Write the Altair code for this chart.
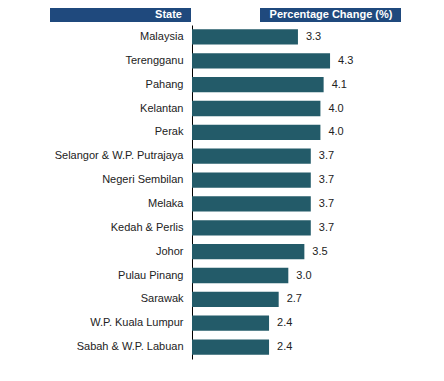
import altair as alt
import pandas as pd

states = ["Malaysia", "Terengganu", "Pahang", "Kelantan", "Perak",
          "Selangor & W.P. Putrajaya", "Negeri Sembilan", "Melaka",
          "Kedah & Perlis", "Johor", "Pulau Pinang", "Sarawak",
          "W.P. Kuala Lumpur", "Sabah & W.P. Labuan"]
changes = [3.3, 4.3, 4.1, 4.0, 4.0, 3.7, 3.7, 3.7, 3.7, 3.5, 3.0, 2.7, 2.4, 2.4]
headers = ["State", "Percentage Change (%)"]

df = pd.DataFrame({"state": states, "change": changes})
df["label"] = df["change"].map(lambda v: f"{v:.1f}")

FONT = "Liberation Sans"
W, H = 209, 334

y_enc = alt.Y("state:N", sort=states, title=None,
              scale=alt.Scale(paddingInner=0.36, paddingOuter=0.18),
              axis=alt.Axis(domain=True, domainColor="#000000", domainWidth=1,
                            ticks=False, labelPadding=9, labelFontSize=11,
                            labelFont=FONT, labelColor="#222222", grid=False))
x_enc = alt.X("change:Q", title=None, scale=alt.Scale(domain=[0, 6.51], nice=False),
              axis=None)

bars = alt.Chart(df).mark_bar(color="#235B69").encode(x=x_enc, y=y_enc)
labels = alt.Chart(df).mark_text(align="left", dx=8, fontSize=11, font=FONT,
                                 color="#222222").encode(
    x=x_enc, y=alt.Y("state:N", sort=states), text="label:N")

hdr = pd.DataFrame({"h": headers})
box1 = alt.Chart(hdr).transform_filter(alt.datum.h == headers[0]).mark_rect(
    color="#1F497D").encode(x=alt.value(-142), x2=alt.value(-1),
                            y=alt.value(-17), y2=alt.value(-3))
box2 = alt.Chart(hdr).transform_filter(alt.datum.h == headers[1]).mark_rect(
    color="#1F497D").encode(x=alt.value(68), x2=alt.value(209),
                            y=alt.value(-17), y2=alt.value(-3))
t1 = alt.Chart(hdr).transform_filter(alt.datum.h == headers[0]).mark_text(
    align="right", baseline="middle", fontSize=11, fontWeight="bold", font=FONT,
    color="white").encode(x=alt.value(-10), y=alt.value(-10), text="h:N")
t2 = alt.Chart(hdr).transform_filter(alt.datum.h == headers[1]).mark_text(
    align="center", baseline="middle", fontSize=11, fontWeight="bold", font=FONT,
    color="white").encode(x=alt.value(139), y=alt.value(-10), text="h:N")

chart = alt.layer(bars, labels, box1, box2, t1, t2).properties(
    width=W, height=H,
    autosize=alt.AutoSizeParams(type="none"),
    padding={"left": 184, "top": 17, "right": 30, "bottom": 10},
    background="white",
).configure_view(stroke=None)

chart.save("out.html", embed_options={"renderer": "svg", "actions": False})
